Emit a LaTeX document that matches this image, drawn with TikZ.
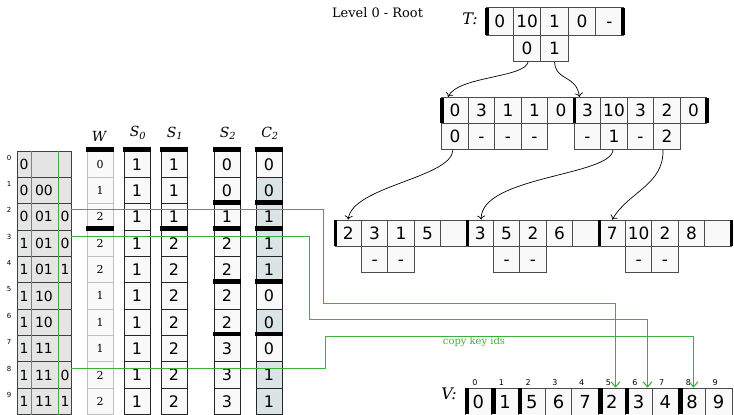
\documentclass[tikz,border=0pt]{standalone}
\usepackage{fontspec}
\newfontfamily\dsans{DejaVu Sans}
\newfontfamily\dserif{DejaVu Serif}
\usetikzlibrary{arrows.meta}
\definecolor{gline}{RGB}{60,175,60}
\definecolor{cfill}{RGB}{249,249,249}
\definecolor{bfill}{RGB}{218,228,228}
\definecolor{lfill}{RGB}{229,229,229}
\begin{document}
\begin{tikzpicture}[x=1bp,y=-1bp,
  tcell/.style={draw=black!70, fill=cfill, line width=0.8bp, minimum height=26.5bp, inner sep=0pt, text height=12.4bp, text depth=0pt, font=\dsans\fontsize{17}{17}\selectfont},
  vcell/.style={draw=black!70, fill=cfill, line width=0.8bp, minimum width=26.7bp, minimum height=27bp, inner sep=0pt, text height=13.1bp, text depth=0pt, font=\dsans\fontsize{18}{18}\selectfont},
  lrow/.style={draw=black!75, fill=lfill, line width=0.8bp, minimum width=54bp, minimum height=26.35bp, inner sep=0pt},
  ltxt/.style={font=\dsans\fontsize{14}{14}\selectfont, inner sep=0pt, text height=10.2bp, text depth=0pt},
  wcell/.style={draw=black!25, fill=cfill, line width=0.8bp, minimum width=26bp, minimum height=26.35bp, inner sep=0pt, font=\dserif\fontsize{11}{11}\selectfont},
  scell/.style={draw=black!85, fill=cfill, line width=0.9bp, minimum width=26bp, minimum height=26.35bp, inner sep=0pt, text height=11.7bp, text depth=0pt, font=\dsans\fontsize{16}{16}\selectfont},
  hdr/.style={font=\dserif\itshape\fontsize{14}{14}\selectfont, inner sep=0pt},
  lbl/.style={font=\dserif\itshape\fontsize{16}{16}\selectfont, inner sep=0pt},
  idx/.style={font=\dsans\fontsize{7}{7}\selectfont, inner sep=0pt},
  vidx/.style={font=\dsans\fontsize{8}{8}\selectfont, inner sep=0pt},
  gl/.style={draw=gline, line width=1.4bp},
  garrow/.style={gl, -{Straight Barb[length=5bp,width=9bp,line width=1.1bp]}},
  tarrow/.style={draw=black, line width=0.7bp, -{To[length=4bp,width=8bp]}}
]
\useasboundingbox (0,0) rectangle (734,414);

% ---------- left key table ----------
\foreach \i/\a/\b/\c in {0/0//,1/0/00/,2/0/01/0,3/1/01/0,4/1/01/1,5/1/10/,6/1/10/,7/1/11/,8/1/11/0,9/1/11/1}{
  \pgfmathsetmacro\yc{164.17+26.35*\i}
  \node[lrow] (lb\i) at (44,\yc) {};
  \node[ltxt] (la\i) at (24,\yc) {\a};
  \node[ltxt] (lm\i) at (44,\yc) {\b};
  \node[ltxt] (lr\i) at (65,\yc) {\c};
  \node[idx] (li\i) at (9,\yc-6.5) {\i};
}
\draw[gl] ([xshift=-12.5bp]lb0.north) -- ([xshift=-12.5bp]lb9.south);
\draw[gl] ([xshift=14.5bp]lb0.north) -- ([xshift=14.5bp]lb9.south);

% ---------- columns ----------
\foreach \i/\w/\p/\q/\r/\c/\f in {
0/0/1/1/0/0/cfill,
1/1/1/1/0/0/bfill,
2/2/1/1/1/1/bfill,
3/2/1/2/2/1/bfill,
4/2/1/2/2/1/bfill,
5/1/1/2/2/0/cfill,
6/1/1/2/2/0/bfill,
7/1/1/2/3/0/cfill,
8/2/1/2/3/1/bfill,
9/2/1/2/3/1/bfill}{
  \pgfmathsetmacro\yc{164.17+26.35*\i}
  \node[wcell] (w\i) at (100,\yc) {\w};
  \node[scell] (sa\i) at (137,\yc) {\p};
  \node[scell] (sb\i) at (174,\yc) {\q};
  \node[scell] (sc\i) at (227,\yc) {\r};
  \node[scell, fill=\f] (cc\i) at (269,\yc) {\c};
}
\foreach \x/\r in {100/0,100/3,137/0,174/0,174/3,227/0,227/2,227/3,227/5,227/7,269/0,269/2,269/3,269/5,269/7}
  \fill[black] (\x-13.8,151+26.35*\r-3.6) rectangle (\x+13.8,151+26.35*\r+1);

\node[hdr] (hw) at (99,136) {W};
\node[hdr] (hs0) at (138,133) {S\textsubscript{0}};
\node[hdr] (hs1) at (175,133) {S\textsubscript{1}};
\node[hdr] (hs2) at (228,133) {S\textsubscript{2}};
\node[hdr] (hc2) at (270,133) {C\textsubscript{2}};

% ---------- tree ----------
\node[font=\dserif\fontsize{13}{13}\selectfont, inner sep=0pt] (lev) at (377.5,13) {Level 0 - Root};
\node[lbl] (tlab) at (470,19) {T:};
\foreach \v [count=\k from 0] in {0,10,1,0,-}
  \node[tcell, minimum width=27.4bp, minimum height=27.5bp] (t\k) at (499.7+27.4*\k,21.2) {\v};
\node[tcell, minimum width=27.4bp] (ta) at (527.1,48.2) {0};
\node[tcell, minimum width=27.4bp] (tb) at (554.5,48.2) {1};
\fill[black] (484.5,7.5) rectangle (488.5,35);
\fill[black] (621,7.5) rectangle (625,35);

% level 1
\foreach \v [count=\k from 0] in {0,3,1,1,0,3,10,3,2,0}
  \node[tcell, minimum width=26.5bp, minimum height=26bp] (m\k) at (455+26.5*\k,110.3) {\v};
\foreach \k/\v in {0/0,1/-,2/-,3/-,5/-,6/1,7/-,8/2}
  \node[tcell, minimum width=26.5bp, minimum height=26bp] (mr\k) at (455+26.5*\k,136.3) {\v};
\foreach \b in {441.7,574.2,706.7}
  \fill[black] (\b-1.5,97.5) rectangle (\b+2,123.3);

% level 2
\foreach \v [count=\k from 0] in {2,3,1,5,{},3,5,2,6,{},7,10,2,8,{}}
  \node[tcell, minimum width=26.4bp, minimum height=26bp] (n\k) at (348.2+26.4*\k,233) {\v};
\foreach \k in {1,2,6,7,11,12}
  \node[tcell, minimum width=26.4bp, minimum height=26bp] (nr\k) at (348.2+26.4*\k,259) {-};
\foreach \b in {335,467,599,731}
  \fill[black] (\b-1.5,220.2) rectangle (\b+2,246);

% tree arrows
\draw[tarrow] ([xshift=1bp]ta.south) .. controls (525,78) and (458,76) .. ([xshift=-7bp]m0.north);
\draw[tarrow] (tb.south) .. controls (556,82) and (576,74) .. ([xshift=-8bp]m5.north);
\draw[tarrow] ([xshift=-2bp]mr0.south) .. controls (452,178) and (352,186) .. (n0.north);
\draw[tarrow] ([xshift=-1bp]mr6.south) .. controls (612,176) and (480,176) .. ([xshift=1bp]n5.north);
\draw[tarrow] ([xshift=-4bp]mr8.south) .. controls (664,185) and (628,192) .. (n10.north);

% ---------- V array ----------
\node[lbl] (vlab) at (449,394) {V:};
\foreach \v [count=\k from 0] in {0,1,5,6,7,2,3,4,8,9}{
  \node[vcell] (v\k) at (478.35+26.7*\k,401.5) {\v};
  \node[vidx] (vi\k) at (474.8+26.7*\k,382.5) {\k};
}
\foreach \k in {0,1,2,5,6,8}
  \fill[black] (465+26.7*\k-0.5,388) rectangle (465+26.7*\k+4,414);

% ---------- green copy lines ----------
\draw[garrow] ([yshift=7.37bp]lb2.east) -| (323.5,303.5) -| ([xshift=3.65bp]v5.north);
\draw[garrow] ([yshift=6.72bp]lb3.east) -| (309.5,319.5) -| ([xshift=8.95bp]v6.north);
\draw[garrow] ([yshift=6.47bp]lb8.east) -| (325.5,336.5) -| ([xshift=1.55bp]v8.north);
\node[font=\dserif\fontsize{10}{10}\selectfont, text=gline, inner sep=0pt] (cki) at (474,342) {copy key ids};

\end{tikzpicture}
\end{document}
